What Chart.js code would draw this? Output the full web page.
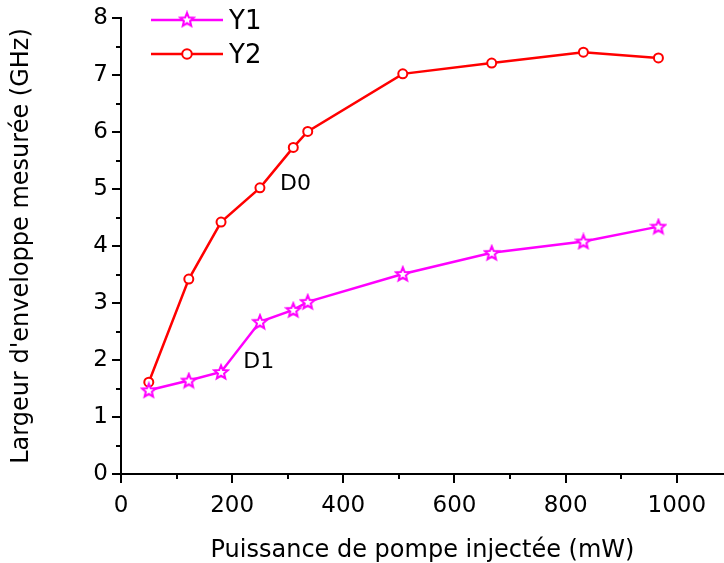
<!DOCTYPE html>
<html>
<head>
<meta charset="utf-8">
<script src="https://cdn.jsdelivr.net/npm/chart.js@4.4.1/dist/chart.umd.min.js"></script>
<style>
  html, body { margin: 0; padding: 0; background: #fff; }
  canvas { display: block; }
</style>
</head>
<body>
<canvas id="chart" width="724" height="563"></canvas>
<script>
// pump power (mW), shared by both curves
const power = [50, 122, 180, 250, 310, 336, 507, 667, 832, 967];
const y1 = [1.47, 1.64, 1.79, 2.67, 2.88, 3.02, 3.51, 3.88, 4.08, 4.34];
const y2 = [1.61, 3.42, 4.42, 5.02, 5.73, 6.01, 7.02, 7.21, 7.40, 7.30];

const seriesNames = ['Y1', 'Y2'];

// text labels placed on the plot (data coords, baseline-left)
const noteText = ['D0', 'D1'];
const noteX = [286, 220];
const noteY = [4.98, 1.86];

const FONT = "'DejaVu Sans', sans-serif";

// 5 point outline star for the Y1 markers
function makeStar(color) {
    const c = document.createElement('canvas');
    c.width = 18; c.height = 18;
    const g = c.getContext('2d');
    g.beginPath();
    for (let i = 0; i < 10; i++) {
        const r = i % 2 === 0 ? 7.2 : 3.2;
        const a = -Math.PI / 2 + i * Math.PI / 5;
        g.lineTo(9 + r * Math.cos(a), 9.6 + r * Math.sin(a));
    }
    g.closePath();
    g.fillStyle = '#fff';
    g.fill();
    g.lineWidth = 2;
    g.strokeStyle = color;
    g.stroke();
    return c;
}
const star = makeStar('#ff00ff');

// outward major/minor ticks like the original plot
const tickPlugin = {
    id: 'ticks',
    afterDraw(chart) {
        const ctx = chart.ctx;
        const xs = chart.scales.x, ys = chart.scales.y;
        const area = chart.chartArea;
        ctx.save();
        ctx.strokeStyle = '#000';
        ctx.lineWidth = 2;
        for (let v = 0; v <= 1000; v += 100) {
            const px = Math.round(xs.getPixelForValue(v));
            const len = v % 200 === 0 ? 9 : 5;
            ctx.beginPath();
            ctx.moveTo(px, area.bottom);
            ctx.lineTo(px, area.bottom + len);
            ctx.stroke();
        }
        for (let v = 0; v <= 8; v += 0.5) {
            const py = Math.round(ys.getPixelForValue(v));
            const len = v % 1 === 0 ? 9 : 5;
            ctx.beginPath();
            ctx.moveTo(area.left, py);
            ctx.lineTo(area.left - len, py);
            ctx.stroke();
        }
        ctx.restore();
    }
};

const notePlugin = {
    id: 'notes',
    afterDatasetsDraw(chart) {
        const ctx = chart.ctx;
        ctx.save();
        ctx.fillStyle = '#000';
        ctx.font = '22px ' + FONT;
        ctx.textAlign = 'left';
        ctx.textBaseline = 'alphabetic';
        noteText.forEach((t, i) => {
            ctx.fillText(t, chart.scales.x.getPixelForValue(noteX[i]), chart.scales.y.getPixelForValue(noteY[i]));
        });
        ctx.restore();
    }
};

// legend drawn Origin-style: line with marker in the middle
const legendPlugin = {
    id: 'originLegend',
    afterDraw(chart) {
        const ctx = chart.ctx;
        ctx.save();
        chart.data.datasets.forEach((ds, i) => {
            const y = 20 + i * 34;
            ctx.strokeStyle = ds.borderColor;
            ctx.lineWidth = 2.5;
            ctx.beginPath();
            ctx.moveTo(151, y);
            ctx.lineTo(223, y);
            ctx.stroke();
            if (i === 0) {
                ctx.drawImage(star, 187 - 9, y - 9.6);
            } else {
                ctx.beginPath();
                ctx.arc(187, y, 4.8, 0, Math.PI * 2);
                ctx.fillStyle = '#fff';
                ctx.lineWidth = 2;
                ctx.fill();
                ctx.stroke();
            }
            ctx.fillStyle = '#000';
            ctx.font = '26px ' + FONT;
            ctx.textBaseline = 'middle';
            ctx.fillText(ds.label, 229, y + 2);
        });
        ctx.restore();
    }
};

new Chart(document.getElementById('chart').getContext('2d'), {
    type: 'scatter',
    data: {
        datasets: [
            {
                label: seriesNames[0],
                data: power.map((p, i) => ({ x: p, y: y1[i] })),
                showLine: true,
                borderColor: '#ff00ff',
                borderWidth: 2.5,
                pointStyle: star,
                pointRadius: 7,
            },
            {
                label: seriesNames[1],
                data: power.map((p, i) => ({ x: p, y: y2[i] })),
                showLine: true,
                borderColor: '#ff0000',
                borderWidth: 2.5,
                pointStyle: 'circle',
                pointRadius: 4.5,
                pointBorderWidth: 2,
                pointBackgroundColor: '#fff',
            }
        ]
    },
    options: {
        responsive: false,
        animation: false,
        layout: { autoPadding: false, padding: { top: 18, right: 0, bottom: 0, left: 0 } },
        plugins: {
            legend: { display: false },
            tooltip: { enabled: false }
        },
        scales: {
            x: {
                type: 'linear',
                min: 0,
                max: 1085,
                afterFit: s => { s.height = 89; s.paddingLeft = 0; s.paddingRight = 0; },
                grid: { display: false, drawTicks: false },
                border: { display: true, color: '#000', width: 2 },
                ticks: {
                    stepSize: 200,
                    includeBounds: false,
                    maxRotation: 0,
                    padding: 18,
                    color: '#000',
                    font: { family: FONT, size: 23 },
                    callback: v => String(v)
                },
                title: {
                    display: true,
                    text: 'Puissance de pompe injectée (mW)',
                    color: '#000',
                    font: { family: FONT, size: 24, lineHeight: 1 },
                    padding: { top: 0, bottom: 0 }
                }
            },
            y: {
                min: 0,
                max: 8,
                afterFit: s => { s.width = 121; s.paddingTop = 0; s.paddingBottom = 0; },
                grid: { display: false, drawTicks: false },
                border: { display: true, color: '#000', width: 2 },
                ticks: {
                    stepSize: 1,
                    padding: 13,
                    color: '#000',
                    font: { family: FONT, size: 23 }
                },
                title: {
                    display: true,
                    text: "Largeur d'enveloppe mesurée (GHz)",
                    color: '#000',
                    font: { family: FONT, size: 24, lineHeight: 1 },
                    padding: { top: 10, bottom: 0 }
                }
            }
        }
    },
    plugins: [tickPlugin, notePlugin, legendPlugin]
});
</script>
</body>
</html>
